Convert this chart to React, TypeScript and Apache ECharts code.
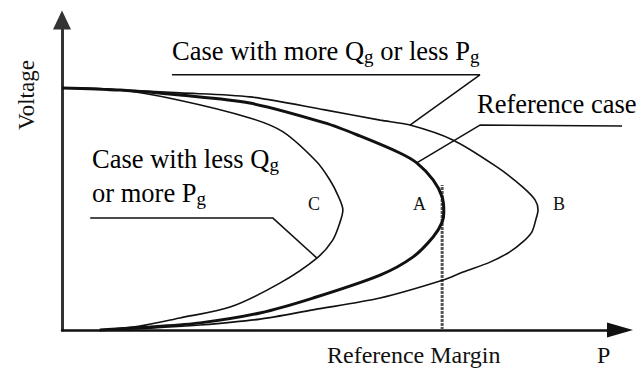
import React, { useEffect, useRef } from "react";
import * as echarts from "echarts";

// P (x) and Voltage (y) in arbitrary units, 0..100
const curveC: [number, number][] = [
  [0, 78.1], [10.3, 77.4], [20.6, 74.2], [33.3, 68.4], [39.2, 63.9], [45.2, 54.2],
  [47.5, 48.4], [48.9, 43.5], [49.8, 38.7], [49.3, 34.8], [48.0, 29.0], [45.2, 23.2],
  [38.7, 15.2], [29.8, 7.4], [20.9, 3.9], [13.8, 1.3], [6.7, 0],
];
const curveA: [number, number][] = [
  [0, 78.1], [10.3, 77.4], [20.9, 75.8], [33.3, 73.2], [46.6, 66.8], [52.8, 62.6],
  [59.9, 57.1], [62.9, 53.9], [65.8, 48.4], [67.4, 42.9], [67.7, 38.1], [67.4, 34.8],
  [65.8, 30.0], [62.2, 23.5], [56.4, 17.7], [44.5, 10.3], [35.1, 5.5], [24.5, 2.3],
  [15.6, 1.0], [6.7, 0],
];
const curveB: [number, number][] = [
  [0, 78.1], [10.3, 77.4], [20.9, 76.5], [33.3, 75.2], [46.6, 71.0], [56.4, 67.7],
  [61.7, 66.1], [69.3, 61.3], [77.1, 52.6], [81.7, 46.1], [83.9, 41.9], [84.4, 38.7],
  [84.0, 35.5], [83.3, 31.6], [81.7, 28.4], [79.4, 25.2], [75.9, 21.9], [71.1, 18.7],
  [67.6, 16.1], [56.4, 10.3], [44.5, 6.5], [35.1, 3.5], [24.5, 1.6], [15.6, 0.6], [6.7, 0],
];
const referenceMargin: [number, number][] = [[67.4, 0], [67.4, 46.8]];
const leaderMore: [number, number][] = [[19.5, 82.3], [74.1, 82.3], [61.7, 66.1]];
const leaderRef: [number, number][] = [[62.9, 53.9], [74.1, 66.1], [99.3, 65.8]];
const leaderLess: [number, number][] = [[5.0, 36.1], [37.4, 36.1], [45.2, 23.2]];

const FONT = "'Liberation Serif', 'Times New Roman', serif";
const rich = {
  n: { fontSize: 26.5, fontFamily: FONT, lineHeight: 30, color: "#111" },
  s: { fontSize: 19, fontFamily: FONT, lineHeight: 10, verticalAlign: "bottom", color: "#111" },
};

function lineSeries(data: [number, number][], width: number, smooth: number | boolean, color = "#111", type: any = "solid") {
  return {
    type: "line",
    data,
    smooth,
    symbol: "none",
    showSymbol: false,
    silent: true,
    clip: false,
    lineStyle: { color, width, type },
  };
}

export default function App() {
  const ref = useRef<HTMLDivElement>(null);
  useEffect(() => {
    const chart = echarts.init(ref.current!, null, { renderer: "svg" });
    chart.setOption({
      animation: false,
      backgroundColor: "#fff",
      grid: { left: 62, right: 15, top: 20, bottom: 39 },
      xAxis: {
        type: "value", min: 0, max: 100,
        axisLine: {
          show: true, onZero: false,
          lineStyle: { color: "#111", width: 2.5 },
          symbol: ["none", "triangle"], symbolSize: [15, 26], symbolOffset: [0, -6],
        },
        axisTick: { show: false }, axisLabel: { show: false }, splitLine: { show: false },
      },
      yAxis: {
        type: "value", min: 0, max: 100,
        axisLine: {
          show: true, onZero: false,
          lineStyle: { color: "#333", width: 3 },
          symbol: ["none", "triangle"], symbolSize: [18, 19],
        },
        axisTick: { show: false }, axisLabel: { show: false }, splitLine: { show: false },
      },
      series: [
        lineSeries(referenceMargin, 3, false, "#555", [3, 1]),
        lineSeries(curveC, 1.6, 0.3),
        lineSeries(curveB, 1.6, 0.3),
        lineSeries(curveA, 3, 0.3),
        lineSeries(leaderMore, 1.5, false),
        lineSeries(leaderRef, 1.5, false),
        lineSeries(leaderLess, 1.5, false),
      ],
      graphic: [
        { type: "text", x: 172, y: 36, style: { text: "{n|Case with more Q}{s|g}{n| or less P}{s|g}", rich, textVerticalAlign: "top" } },
        { type: "text", x: 477, y: 89, style: { text: "{n|Reference case}", rich, textVerticalAlign: "top" } },
        { type: "text", x: 92, y: 144, style: { text: "{n|Case with less Q}{s|g}", rich, textVerticalAlign: "top" } },
        { type: "text", x: 92, y: 178, style: { text: "{n|or more P}{s|g}", rich, textVerticalAlign: "top" } },
        { type: "text", x: 308, y: 194, style: { text: "C", font: `18px ${FONT}`, lineHeight: 20, fill: "#111", textVerticalAlign: "top" } },
        { type: "text", x: 413, y: 194, style: { text: "A", font: `18px ${FONT}`, lineHeight: 20, fill: "#111", textVerticalAlign: "top" } },
        { type: "text", x: 553, y: 194, style: { text: "B", font: `18px ${FONT}`, lineHeight: 20, fill: "#111", textVerticalAlign: "top" } },
        { type: "text", x: 327, y: 341, style: { text: "Reference Margin", font: `24px ${FONT}`, lineHeight: 28, fill: "#111", textVerticalAlign: "top" } },
        { type: "text", x: 597, y: 341, style: { text: "P", font: `24px ${FONT}`, lineHeight: 28, fill: "#111", textVerticalAlign: "top" } },
        { type: "text", x: 26, y: 95, rotation: Math.PI / 2, style: { text: "Voltage", font: `23px ${FONT}`, fill: "#111", textAlign: "center", textVerticalAlign: "middle" } },
      ],
    });
    return () => chart.dispose();
  }, []);
  return <div ref={ref} style={{ position: "fixed", left: 0, top: 0, width: 641, height: 369, background: "#fff" }} />;
}
